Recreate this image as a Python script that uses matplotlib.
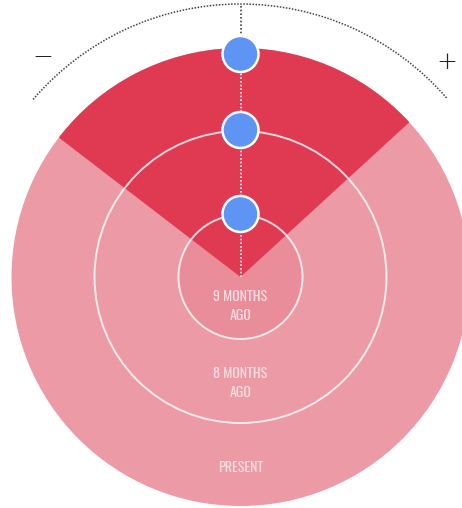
import matplotlib
matplotlib.use("Agg")
import matplotlib.pyplot as plt
from matplotlib.patches import Circle, Wedge, Arc

# ---- data ----
ring_labels = ["9 MONTHS\nAGO", "8 MONTHS\nAGO", "PRESENT"]
ring_radii = [62, 146, 229]          # ring outer radius (inner -> outer)
label_radii = [-29, -106, -190]      # label position along vertical axis
dot_radii = [63, 147, 223]           # position of blue markers on the scale
wedge_start, wedge_end = 42.5, 142.5 # wedge angles (degrees, 90 = up)
scale_start, scale_end = 41.0, 139.5 # dotted scale arc angles
scale_radius = 273
scale_labels = ["−", "+"]

W, H = 462, 508
fig = plt.figure(figsize=(W / 100, H / 100), dpi=100)
ax = fig.add_axes([0, 0, 1, 1])
ax.set_xlim(-240.5, W - 240.5)
ax.set_ylim(277 - H, 277)
ax.set_aspect("equal")
ax.axis("off")

light = "#EC9BA6"
inner_c = "#E88D99"
red = "#E03A52"
blue = "#5E95F5"

ax.add_patch(Circle((0, 0), ring_radii[2], color=light, lw=0, zorder=1))
ax.add_patch(Circle((0, 0), ring_radii[0], color=inner_c, lw=0, zorder=2))
ax.add_patch(Wedge((0, 0), ring_radii[2], wedge_start, wedge_end,
                   color=red, lw=0, zorder=3))
for r in ring_radii[:2]:
    ax.add_patch(Circle((0, 0), r, fill=False, ec="white", lw=1.4, alpha=0.8, zorder=4))

ax.plot([0, 0], [0, ring_radii[2]], color="white", lw=1.2, ls=(0, (1, 1.2)), zorder=5)
ax.plot([0, 0], [ring_radii[2], scale_radius], color="#444444", lw=1.2, ls=(0, (1, 1.2)), zorder=5)
ax.add_patch(Arc((0, 0), 2 * scale_radius, 2 * scale_radius,
                 theta1=scale_start, theta2=scale_end,
                 color="#444444", lw=1.1, ls=(0, (1, 1)), zorder=5))

for r in dot_radii:
    ax.add_patch(Circle((0, r), 18, fc=blue, ec="white", lw=1.8, zorder=6))

for lab, y in zip(ring_labels, label_radii):
    ax.text(0, y, lab, ha="center", va="center", color="#FADDE2", fontsize=10,
            linespacing=1.5, family=["Oswald", "DejaVu Sans"], weight="light", zorder=7)

ax.text(-198, 220, scale_labels[0], ha="center", va="center", fontsize=18, color="#222222",
        weight="light")
ax.text(206, 215, scale_labels[1], ha="center", va="center", fontsize=18, color="#222222",
        weight="light")

fig.savefig("out.png", dpi=100)
